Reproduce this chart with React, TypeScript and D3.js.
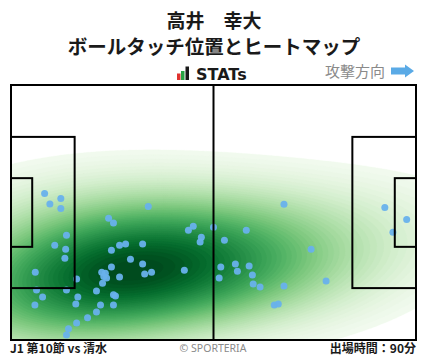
import React, { useMemo } from "react";
import * as d3 from "d3";

// ball touches, pitch coords 0-100 (x: own goal -> attack, y: top -> bottom)
const touchX = [
  8.3, 9.6, 12.3, 12.3, 33.9, 24.1, 25.3, 13.7, 10.8, 13.5, 13.3, 6.0, 6.3, 7.8, 5.9, 13.7,
  16.2, 16.5, 16.0, 16.2, 14.2, 13.7, 18.9, 21.1, 22.1, 21.1, 22.6, 22.4, 23.3, 23.6, 22.9,
  24.8, 26.8, 25.3, 25.8, 25.3, 24.8, 26.8, 28.3, 29.5, 32.5, 32.5, 33.0, 34.7, 42.8, 43.8,
  45.0, 47.0, 46.7, 50.0, 51.8, 51.4, 67.4, 92.3, 97.7, 94.3, 58.1, 52.7, 74.1, 55.4, 55.9,
  58.8, 59.6, 59.8, 61.5, 67.4, 77.8, 65.0, 66.0,
];
const touchY = [
  42.5, 46.7, 44.5, 48.4, 47.6, 52.3, 54.1, 58.9, 62.8, 64.4, 67.9, 73.4, 80.4, 83.1, 86.3, 80.4,
  76.1, 83.1, 85.9, 93.3, 95.6, 98.0, 91.3, 89.0, 86.3, 80.8, 77.7, 73.4, 73.8, 75.7, 75.1,
  71.4, 75.3, 82.3, 82.7, 86.3, 64.8, 62.8, 62.4, 68.3, 62.4, 70.2, 74.1, 73.4, 72.6, 57.0,
  55.4, 59.7, 61.6, 55.8, 71.4, 75.7, 46.8, 48.0, 52.7, 57.7, 57.0, 60.9, 64.4, 70.2, 73.0,
  71.0, 74.5, 78.0, 79.2, 78.8, 76.9, 86.3, 85.9,
];

const titleLines = ["高井　幸大", "ボールタッチ位置とヒートマップ"];
const matchLabel = "J1 第10節 vs 清水";
const minutesLabel = "出場時間：90分";
const directionLabel = "攻撃方向";

// pitch in metres
const PITCH_L = 105;
const PITCH_W = 68;
const BOX_D = 16.5;
const BOX_W = 40.32;
const SIX_D = 5.5;
const SIX_W = 18.32;

const W = 428;
const H = 359;
const px0 = 11, px1 = 416, py0 = 85, py1 = 340;

const NX = 203;
const NY = 128;
const LEVELS = 48;
const LOW = 0.085;
const BW_MULT = 2.35;

function kdeGrid() {
  const n = touchX.length;
  const mx = d3.mean(touchX)!;
  const my = d3.mean(touchY)!;
  let sxx = 0, syy = 0, sxy = 0;
  for (let i = 0; i < n; i++) {
    const dx = touchX[i] - mx, dy = touchY[i] - my;
    sxx += dx * dx; syy += dy * dy; sxy += dx * dy;
  }
  const f2 = Math.pow(n, -1 / 3) * BW_MULT * BW_MULT;
  const a = (sxx / (n - 1)) * f2;
  const d = (syy / (n - 1)) * f2;
  const b = (sxy / (n - 1)) * f2;
  const det = a * d - b * b;
  const ia = d / det, id = a / det, ib = -b / det;
  const values = new Float64Array(NX * NY);
  for (let j = 0; j < NY; j++) {
    const v = ((j + 0.5) / NY) * 100;
    for (let i = 0; i < NX; i++) {
      const u = ((i + 0.5) / NX) * 100;
      let s = 0;
      for (let k = 0; k < n; k++) {
        const dx = u - touchX[k], dy = v - touchY[k];
        s += Math.exp(-0.5 * (ia * dx * dx + 2 * ib * dx * dy + id * dy * dy));
      }
      values[j * NX + i] = s;
    }
  }
  return values;
}

export default function App() {
  const xScale = d3.scaleLinear().domain([0, 100]).range([px0, px1]);
  const yScale = d3.scaleLinear().domain([0, 100]).range([py0, py1]);
  const mX = d3.scaleLinear().domain([0, PITCH_L]).range([px0, px1]);
  const mY = d3.scaleLinear().domain([0, PITCH_W]).range([py0, py1]);

  const bands = useMemo(() => {
    const values = kdeGrid();
    const max = d3.max(values)!;
    const thresholds = d3.range(LEVELS).map(k => max * (LOW + ((1 - LOW) * k) / LEVELS));
    const contours = d3.contours().size([NX, NY]).thresholds(thresholds)(Array.from(values));
    const proj = d3.geoTransform({
      point(x, y) {
        this.stream.point(px0 + (x / NX) * (px1 - px0), py0 + (y / NY) * (py1 - py0));
      },
    });
    const path = d3.geoPath(proj);
    return contours.map((c, i) => ({ d: path(c as any) || "", fill: d3.interpolateGreens(0.04 + (0.96 * i) / LEVELS) }));
  }, []);

  const cy = PITCH_W / 2;
  const lines = [
    [0, 0, PITCH_L, PITCH_W],
    [0, cy - BOX_W / 2, BOX_D, BOX_W],
    [0, cy - SIX_W / 2, SIX_D, SIX_W],
    [PITCH_L - BOX_D, cy - BOX_W / 2, BOX_D, BOX_W],
    [PITCH_L - SIX_D, cy - SIX_W / 2, SIX_D, SIX_W],
  ];

  const jp = "'Noto Sans CJK JP', 'Noto Sans', sans-serif";

  return (
    <svg width={W} height={H} style={{ position: "absolute", left: 0, top: 0, background: "#fff" }}>
      <text x={214} y={28} textAnchor="middle" fontFamily={jp} fontWeight={700} fontSize={19} fill="#1a1a1a">{titleLines[0]}</text>
      <text x={214} y={54} textAnchor="middle" fontFamily={jp} fontWeight={700} fontSize={19.5} fill="#1a1a1a">{titleLines[1]}</text>

      <g>
        <rect x={177} y={73.5} width={3.5} height={6.5} fill="#e0322f" />
        <rect x={181} y={71} width={3.5} height={9} fill="#2aa345" />
        <rect x={185.5} y={66.5} width={3.5} height={13.5} fill="#1a1a1a" />
        <text x={196} y={80} fontFamily="'DejaVu Sans', sans-serif" fontWeight={700} fontSize={16} fill="#1a1a1a">STATs</text>
      </g>

      <text x={325} y={77} fontFamily={jp} fontSize={15} fill="#8a8a8a">{directionLabel}</text>
      <path d="M391,67.5 L405,67.5 L405,64.5 L414,71 L405,77.5 L405,74.5 L391,74.5 Z" fill="#5aaae6" />

      <defs>
        <clipPath id="pitch-clip">
          <rect x={px0} y={py0} width={px1 - px0} height={py1 - py0} />
        </clipPath>
      </defs>
      <g clipPath="url(#pitch-clip)">
        {bands.map((b, i) => (
          <path key={i} d={b.d} fill={b.fill} stroke={b.fill} strokeWidth={0.3} />
        ))}
      </g>

      <g>
        {touchX.map((x, i) => (
          <circle key={i} cx={xScale(x)} cy={yScale(touchY[i])} r={3.5} fill="#68b1ec" fillOpacity={0.95} />
        ))}
      </g>

      <g fill="none" stroke="#000" strokeWidth={2}>
        {lines.map(([x, y, w, h], i) => (
          <rect key={i} x={mX(x)} y={mY(y)} width={mX(x + w) - mX(x)} height={mY(y + h) - mY(y)} />
        ))}
        <line x1={mX(PITCH_L / 2)} x2={mX(PITCH_L / 2)} y1={mY(0)} y2={mY(PITCH_W)} />
      </g>

      <text x={10} y={353} fontFamily={jp} fontWeight={700} fontSize={12} fill="#1a1a1a">{matchLabel}</text>
      <text x={213} y={352} textAnchor="middle" fontFamily="'Noto Sans', sans-serif" fontSize={10.5} fill="#8a8a8a">© SPORTERIA</text>
      <text x={416} y={353} textAnchor="end" fontFamily={jp} fontWeight={700} fontSize={12} fill="#1a1a1a">{minutesLabel}</text>
    </svg>
  );
}
